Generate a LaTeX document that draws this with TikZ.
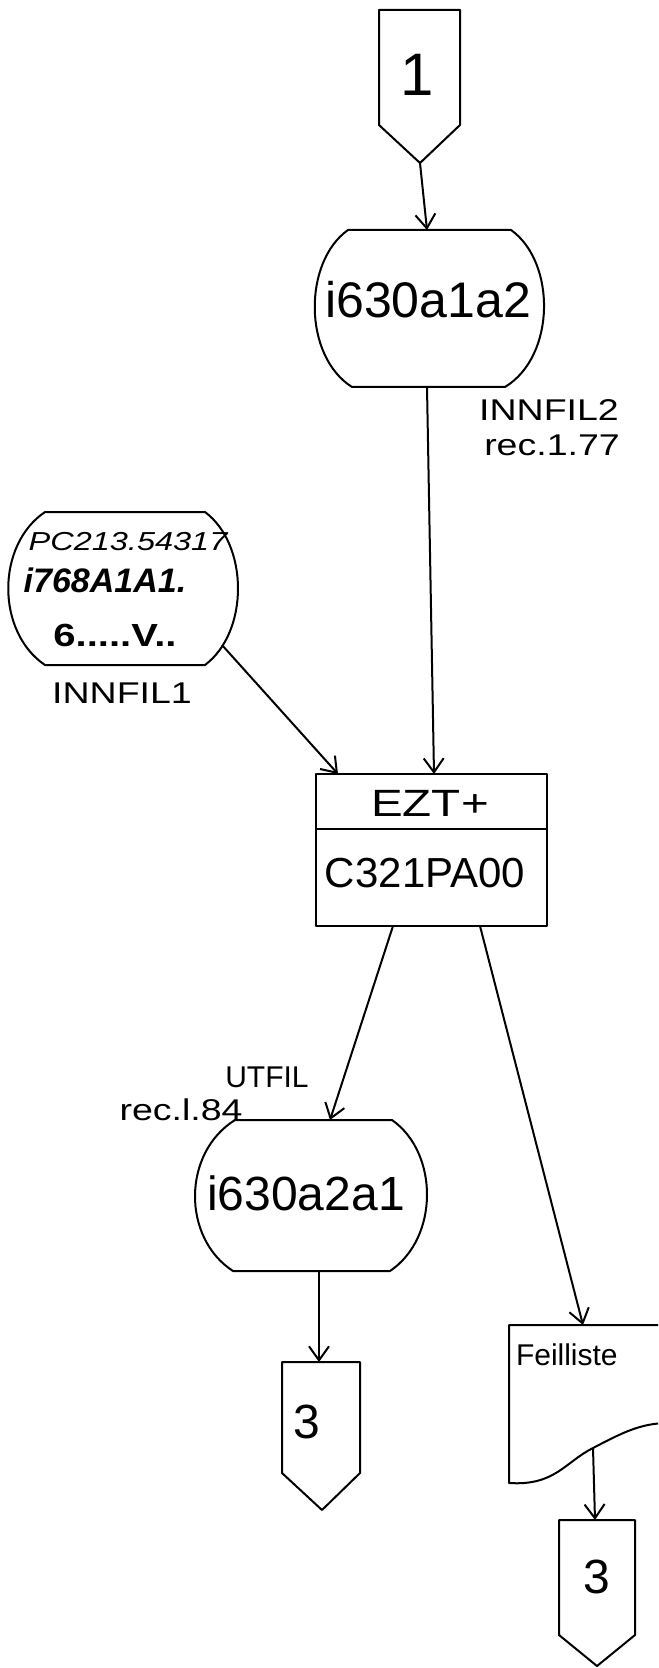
\documentclass[tikz,border=0pt]{standalone}
\usepackage{fontspec}
\setmainfont{Liberation Sans}
\newfontfamily\wide[FakeStretch=1.25]{Liberation Sans}
\usetikzlibrary{arrows.meta}
\begin{document}
\begin{tikzpicture}[x=0.5pt,y=-0.5pt, line width=1pt, line join=round,
  arr/.style={-{Straight Barb[length=7pt,width=10pt]}},
  txt/.style={inner sep=0pt}]
\useasboundingbox (0,0) rectangle (658,1668);

% ---- connector 1
\draw (379,10) -- (460,10) -- (460,125) -- (420,163) -- (379,125) -- cycle;
\coordinate (c1tip) at (420,163);
\node[txt] (c1) at (417,75) {\fontsize{30}{32}\selectfont 1};

% ---- storage i630a1a2
\draw (348,230) -- (511,230) .. controls (556,262) and (556,356) .. (505,387)
      -- (352,387) .. controls (303,356) and (303,262) .. (348,230) -- cycle;
\coordinate (s1top) at (427,230);
\coordinate (s1bot) at (427,387);
\node[txt] (s1) at (428,300) {\fontsize{25}{27}\selectfont i630a1a2};
\node[txt] (inn2) at (549,410) {\wide\fontsize{15}{17}\selectfont INNFIL2};
\node[txt] (rec77) at (552,445) {\wide\fontsize{15}{17}\selectfont rec.1.77};

% ---- storage INNFIL1
\draw (45,512) -- (205,512) .. controls (249,545) and (249,632) .. (205,665)
      -- (45,665) .. controls (-4,632) and (-4,545) .. (45,512) -- cycle;
\coordinate (s2out) at (222,645);
\node[txt] (pc) at (128,542) {\wide\itshape\fontsize{13}{15}\selectfont PC213.54317};
\node[txt] (i768) at (105,580) {\bfseries\itshape\fontsize{17}{19}\selectfont i768A1A1.};
\node[txt] (six) at (115,635) {\wide\bfseries\fontsize{16}{18}\selectfont 6.....V..};
\node[txt] (inn1) at (122,693) {\wide\fontsize{15}{17}\selectfont INNFIL1};

% ---- EZT+ box
\draw (316,774) rectangle (547,926);
\draw (316,829) -- (547,829);
\coordinate (ezin1) at (338,774);
\coordinate (ezin2) at (434,774);
\coordinate (ezout1) at (393,926);
\coordinate (ezout2) at (480,926);
\node[txt] (ezt) at (430,803) {\wide\fontsize{19}{21}\selectfont EZT+};
\node[txt] (c321) at (425,873) {\fontsize{21}{23}\selectfont C321PA00};

% ---- storage i630a2a1
\draw (235,1120) -- (392,1120) .. controls (439,1153) and (439,1238) .. (390,1271)
      -- (233,1271) .. controls (182,1238) and (182,1153) .. (235,1120) -- cycle;
\coordinate (s3top) at (330,1120);
\coordinate (s3bot) at (319,1271);
\node[txt] (s3) at (306,1193) {\fontsize{24}{26}\selectfont i630a2a1};
\node[txt] (utfil) at (267,1077) {\fontsize{15}{17}\selectfont UTFIL};
\node[txt] (rec84) at (181,1110) {\wide\fontsize{15}{17}\selectfont rec.l.84};

% ---- connector 3 (left)
\draw (282,1362) -- (360,1362) -- (360,1473) -- (322,1510) -- (282,1473) -- cycle;
\coordinate (c3atop) at (319,1362);
\node[txt] (c3a) at (307,1422) {\fontsize{24}{26}\selectfont 3};

% ---- document Feilliste
\begin{scope}
\clip (0,0) rectangle (658,1668);
\draw (668,1325) -- (509,1325) -- (509,1483)
      .. controls (555,1486) and (565,1462) .. (593,1448)
      .. controls (620,1434) and (640,1423) .. (668,1423);
\end{scope}
\coordinate (doctop) at (583,1325);
\coordinate (docbot) at (593,1448);
\node[txt, anchor=west] (feil) at (515,1355) {\fontsize{15}{17}\selectfont Feilliste};

% ---- connector 3 (right)
\draw (559,1520) -- (635,1520) -- (635,1635) -- (597,1666) -- (559,1635) -- cycle;
\coordinate (c3btop) at (595,1520);
\node[txt] (c3b) at (597,1577) {\fontsize{24}{26}\selectfont 3};

% ---- connectors
\draw[arr] (c1tip) -- (s1top);
\draw[arr] (s1bot) -- (ezin2);
\draw[arr] (s2out) -- (ezin1);
\draw[arr] (ezout1) -- (s3top);
\draw[arr] (ezout2) -- (doctop);
\draw[arr] (s3bot) -- (c3atop);
\draw[arr] (docbot) -- (c3btop);
\end{tikzpicture}
\end{document}
